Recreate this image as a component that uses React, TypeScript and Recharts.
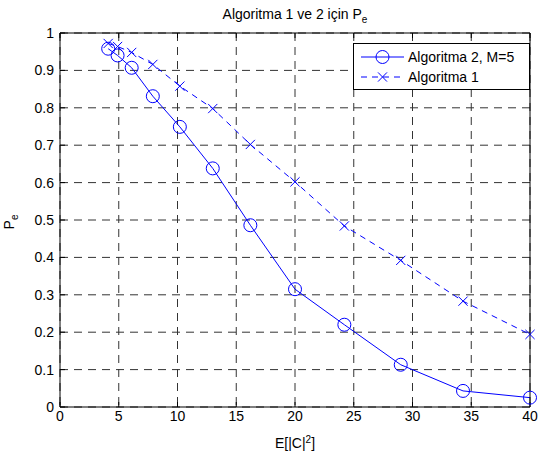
import React from "react";
import { CartesianGrid, Legend, Line, LineChart, XAxis, YAxis } from "recharts";

const energy = [4.1, 4.9, 6.1, 7.9, 10.2, 13, 16.2, 20, 24.2, 29, 34.3, 40];
const algo2 = [0.958, 0.94, 0.907, 0.831, 0.749, 0.638, 0.486, 0.315, 0.22, 0.113, 0.043, 0.025];
const algo1 = [0.972, 0.964, 0.948, 0.916, 0.858, 0.798, 0.702, 0.602, 0.484, 0.392, 0.283, 0.194];
const xTicks = [0, 5, 10, 15, 20, 25, 30, 35, 40];
const yTicks = [0, 0.1, 0.2, 0.3, 0.4, 0.5, 0.6, 0.7, 0.8, 0.9, 1];

const BLUE = "#0000ff";
const FONT = '"Liberation Sans", Arial, sans-serif';
const FS = 14;

const data = energy.map((e, i) => ({ e, algo2: algo2[i], algo1: algo1[i] }));

const CrossDot = (props: any) => {
  const { cx, cy, index } = props;
  if (cx == null || cy == null) return <g key={`x-${index}`} />;
  const s = 4.6;
  return (
    <path
      key={`x-${index}`}
      d={`M${cx - s},${cy - s}L${cx + s},${cy + s}M${cx - s},${cy + s}L${cx + s},${cy - s}`}
      stroke={BLUE}
      strokeWidth={1}
      fill="none"
    />
  );
};

const renderLegend = () => (
  <svg width={177} height={47} style={{ display: "block" }}>
    <rect x={0.5} y={0.5} width={176} height={46} fill="#fff" stroke="#000" />
    <line x1={8} x2={51} y1={14} y2={14} stroke={BLUE} />
    <circle cx={29.5} cy={14} r={6.5} fill="none" stroke={BLUE} />
    <text x={55} y={19} fontFamily={FONT} fontSize={FS} fill="#000">
      Algoritma 2, M=5
    </text>
    <line x1={8} x2={51} y1={34} y2={34} stroke={BLUE} strokeDasharray="6 5" />
    <path d="M25,29.4L34,38.6M25,38.6L34,29.4" stroke={BLUE} fill="none" />
    <text x={55} y={39} fontFamily={FONT} fontSize={FS} fill="#000">
      Algoritma 1
    </text>
  </svg>
);

const tickStyle = { fill: "#000", fontSize: FS, fontFamily: FONT };

// rotated y-axis title, drawn as a small overlay
const YTitle = () => (
  <svg
    width={30}
    height={454}
    style={{ position: "absolute", left: 0, top: 0, pointerEvents: "none" }}
  >
    <text
      transform="translate(13.5, 222) rotate(-90)"
      textAnchor="middle"
      fontFamily={FONT}
      fontSize={FS}
      fill="#000"
    >
      P
      <tspan dy={4} fontSize={10}>
        e
      </tspan>
    </text>
  </svg>
);

export default function App() {
  return (
    <div
      style={{
        position: "absolute",
        left: 0,
        top: 0,
        width: 539,
        height: 454,
        background: "#fff",
      }}
    >
      <LineChart
        width={539}
        height={454}
        data={data}
        margin={{ top: 32, right: 8, bottom: 46, left: 59 }}
      >
        <CartesianGrid
          xAxisId="b"
          yAxisId="l"
          stroke="#333"
          strokeDasharray="8 6"
        />
        <XAxis
          xAxisId="b"
          dataKey="e"
          type="number"
          domain={[0, 40]}
          ticks={xTicks}
          height={1}
          tickSize={-5}
          tickMargin={9}
          tick={tickStyle}
          axisLine={{ stroke: "#000" }}
          tickLine={{ stroke: "#000" }}
          label={(p: any) => {
            const vb = p.viewBox;
            return (
              <text
                x={vb.x + vb.width / 2}
                y={vb.y + 41}
                textAnchor="middle"
                fontFamily={FONT}
                fontSize={FS}
                fill="#000"
              >
                E[|C|
                <tspan dy={-5} fontSize={10}>
                  2
                </tspan>
                <tspan dy={5}>]</tspan>
              </text>
            );
          }}
        />
        <XAxis
          xAxisId="t"
          orientation="top"
          dataKey="e"
          type="number"
          domain={[0, 40]}
          ticks={xTicks}
          height={1}
          tickSize={-5}
          tickFormatter={() => ""}
          axisLine={{ stroke: "#000" }}
          tickLine={{ stroke: "#000" }}
          label={(p: any) => {
            const vb = p.viewBox;
            return (
              <text
                x={vb.x + vb.width / 2}
                y={vb.y + vb.height - 14}
                textAnchor="middle"
                fontFamily={FONT}
                fontSize={FS}
                fill="#000"
              >
                Algoritma 1 ve 2 için P
                <tspan dy={4} fontSize={10}>
                  e
                </tspan>
              </text>
            );
          }}
        />
        <YAxis
          yAxisId="l"
          type="number"
          domain={[0, 1]}
          ticks={yTicks}
          width={1}
          tickSize={-5}
          tickMargin={11}
          tick={tickStyle}
          axisLine={{ stroke: "#000" }}
          tickLine={{ stroke: "#000" }}
        />
        <YAxis
          yAxisId="r"
          orientation="right"
          type="number"
          domain={[0, 1]}
          ticks={yTicks}
          width={1}
          tickSize={-5}
          tickFormatter={() => ""}
          axisLine={{ stroke: "#000" }}
          tickLine={{ stroke: "#000" }}
        />
        <Legend
          content={renderLegend}
          layout="vertical"
          align="center"
          verticalAlign="middle"
          wrapperStyle={{ left: 353, top: 43, width: 177, height: 47 }}
        />
        <Line
          xAxisId="b"
          yAxisId="l"
          type="linear"
          dataKey="algo2"
          stroke={BLUE}
          strokeWidth={1}
          dot={{ r: 6.5, stroke: BLUE, fill: "none", strokeWidth: 1 }}
          activeDot={false}
          isAnimationActive={false}
        />
        <Line
          xAxisId="b"
          yAxisId="l"
          type="linear"
          dataKey="algo1"
          stroke={BLUE}
          strokeWidth={1}
          strokeDasharray="6 5"
          dot={CrossDot}
          activeDot={false}
          isAnimationActive={false}
        />
      </LineChart>
      <YTitle />
    </div>
  );
}
